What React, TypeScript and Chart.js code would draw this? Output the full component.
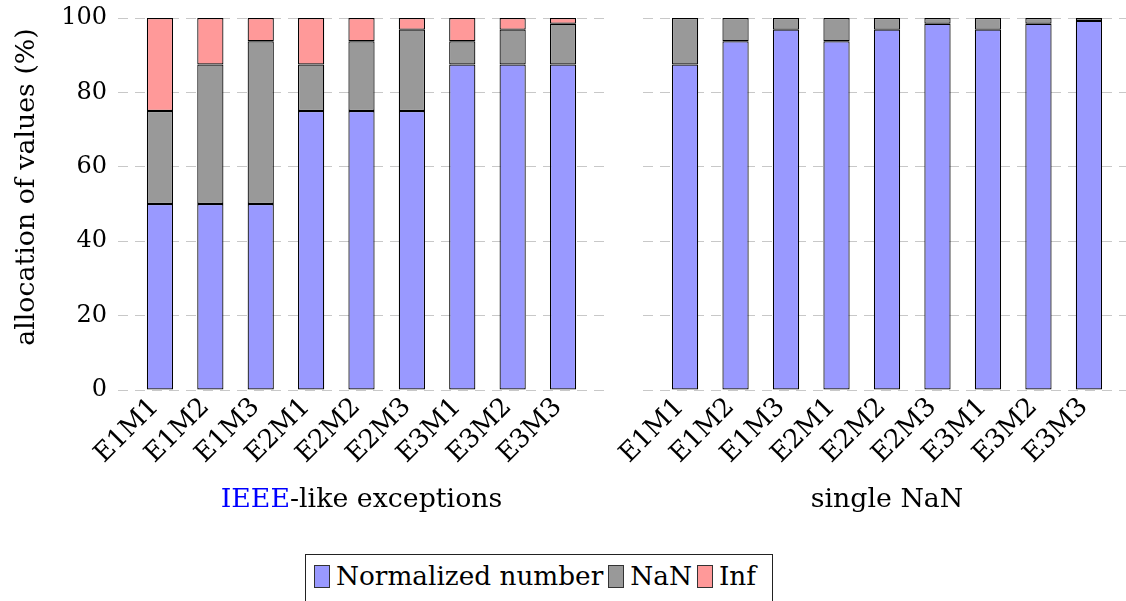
import React, { useEffect, useRef } from "react";
import { Chart, registerables } from "chart.js";

Chart.register(...registerables);

// ---------- data ----------
const categories = ["E1M1", "E1M2", "E1M3", "E2M1", "E2M2", "E2M3", "E3M1", "E3M2", "E3M3"];

const ieeeNormalized = [50, 50, 50, 75, 75, 75, 87.5, 87.5, 87.5];
const ieeeNaN = [25, 37.5, 43.75, 12.5, 18.75, 21.875, 6.25, 9.375, 10.9375];
const ieeeInf = [25, 12.5, 6.25, 12.5, 6.25, 3.125, 6.25, 3.125, 1.5625];

const nanNormalized = [87.5, 93.75, 96.875, 93.75, 96.875, 98.4375, 96.875, 98.4375, 99.21875];
const nanNaN = [12.5, 6.25, 3.125, 6.25, 3.125, 1.5625, 3.125, 1.5625, 0.78125];

const yMin = 0;
const yMax = 100;
const yStep = 20;

const seriesLabels = ["Normalized number", "NaN", "Inf"];
const leftTitleParts = ["IEEE", "-like exceptions"];
const rightTitle = "single NaN";
const yTitle = "allocation of values (%)";

// ---------- styles ----------
const FONT = '"DejaVu Serif", "Liberation Serif", "Noto Serif", serif';
const Y_TICK_SIZE = 24;
const X_TICK_SIZE = 26;
const TITLE_SIZE = 26.8;
const LEGEND_SIZE = 26.3;
const BLUE = "#9999ff";
const GRAY = "#999999";
const RED = "#ff9999";
const seriesColors = [BLUE, GRAY, RED];

type TextPart = { text: string; color: string };
type TextItem = { parts: TextPart[]; x: number | "center"; y: number; rotate?: number };

const textOverlay = {
  id: "textOverlay",
  afterDraw(chart: any, _args: any, opts: any) {
    const items: TextItem[] = opts.items || [];
    const { ctx, chartArea } = chart;
    ctx.save();
    ctx.font = `${opts.size}px ${FONT}`;
    ctx.textAlign = "left";
    ctx.textBaseline = "alphabetic";
    for (const it of items) {
      const parts = it.parts;
      const widths: number[] = [];
      for (let i = 0; i < parts.length; i++) widths.push(ctx.measureText(parts[i].text).width);
      const total = widths.reduce((a, b) => a + b, 0);
      const cx = it.x === "center" ? (chartArea.left + chartArea.right) / 2 : (it.x as number);
      ctx.save();
      ctx.translate(cx, it.y);
      if (it.rotate) ctx.rotate(it.rotate);
      let x = -total / 2;
      for (let i = 0; i < parts.length; i++) {
        ctx.fillStyle = parts[i].color;
        ctx.fillText(parts[i].text, x, 0);
        x += widths[i];
      }
      ctx.restore();
    }
    ctx.restore();
  },
};

type Series = { label: string; data: number[]; color: string };

function buildConfig(series: Series[], o: { yWidth: number; showYTicks: boolean; padRight: number; items: TextItem[] }) {
  return {
    type: "bar" as const,
    data: {
      datasets: series.map((s) => ({
        label: s.label,
        data: s.data.map((v, i) => ({ x: i, y: v })),
        backgroundColor: s.color,
        borderColor: "#000000",
        borderWidth: 1.2,
        borderSkipped: false,
        barPercentage: 0.52,
        categoryPercentage: 1,
      })),
    },
    options: {
      responsive: false,
      animation: false,
      devicePixelRatio: 1,
      layout: { padding: { top: 18, right: o.padRight, left: 0, bottom: 0 } },
      plugins: {
        legend: { display: false },
        tooltip: { enabled: false },
        textOverlay: { items: o.items, size: TITLE_SIZE },
      },
      scales: {
        x: {
          type: "linear",
          offset: false,
          min: -0.833,
          max: categories.length - 1 + 0.833,
          stacked: true,
          grid: { display: false, drawTicks: false, offset: false },
          border: { display: false },
          afterBuildTicks: (s: any) => {
            s.ticks = categories.map((_, i) => ({ value: i }));
          },
          afterFit: (s: any) => {
            s.height = 150;
            s.paddingLeft = 0;
            s.paddingRight = 0;
          },
          ticks: {
            callback: (v: any) => categories[v] ?? "",
            minRotation: 45,
            maxRotation: 45,
            autoSkip: false,
            color: "#000",
            padding: 2,
            labelOffset: -5,
            font: { family: FONT, size: X_TICK_SIZE },
          },
        },
        y: {
          min: yMin,
          max: yMax,
          stacked: true,
          ticks: {
            stepSize: yStep,
            display: o.showYTicks,
            color: "#000",
            padding: 11,
            font: { family: FONT, size: Y_TICK_SIZE },
          },
          grid: { color: "#c8c8c8", drawTicks: false, lineWidth: 1 },
          border: { display: false, dash: [10, 7] },
          afterFit: (s: any) => {
            s.width = o.yWidth;
            s.paddingTop = 0;
            s.paddingBottom = 0;
          },
        },
      },
    },
    plugins: [textOverlay],
  };
}

function Panel(props: { series: Series[]; left: number; width: number; height: number; yWidth: number; showYTicks: boolean; padRight: number; items: TextItem[] }) {
  const ref = useRef<HTMLCanvasElement>(null);
  useEffect(() => {
    const chart = new Chart(
      ref.current as HTMLCanvasElement,
      buildConfig(props.series, {
        yWidth: props.yWidth,
        showYTicks: props.showYTicks,
        padRight: props.padRight,
        items: props.items,
      }) as any
    );
    return () => chart.destroy();
  }, []);
  return (
    <canvas
      ref={ref}
      width={props.width}
      height={props.height}
      style={{ position: "absolute", left: props.left, top: 0, width: props.width, height: props.height }}
    />
  );
}

export default function App() {
  const leftSeries: Series[] = [
    { label: seriesLabels[0], data: ieeeNormalized, color: BLUE },
    { label: seriesLabels[1], data: ieeeNaN, color: GRAY },
    { label: seriesLabels[2], data: ieeeInf, color: RED },
  ];
  const rightSeries: Series[] = [
    { label: seriesLabels[0], data: nanNormalized, color: BLUE },
    { label: seriesLabels[1], data: nanNaN, color: GRAY },
  ];
  const leftItems: TextItem[] = [
    {
      parts: [
        { text: leftTitleParts[0], color: "#0000ff" },
        { text: leftTitleParts[1], color: "#000000" },
      ],
      x: "center",
      y: 507,
    },
    { parts: [{ text: yTitle, color: "#000000" }], x: 34, y: 187, rotate: -Math.PI / 2 },
  ];
  const rightItems: TextItem[] = [{ parts: [{ text: rightTitle, color: "#000000" }], x: "center", y: 507 }];

  return (
    <div
      style={{
        position: "fixed",
        left: 0,
        top: 0,
        width: 1126,
        height: 601,
        overflow: "hidden",
        background: "#ffffff",
      }}
    >
      <Panel series={leftSeries} left={0} width={615} height={540} yWidth={118} showYTicks={true} padRight={10} items={leftItems} />
      <Panel series={rightSeries} left={600} width={546} height={540} yWidth={43} showYTicks={false} padRight={15} items={rightItems} />
      <div
        style={{
          position: "absolute",
          left: 305,
          top: 554,
          width: 468,
          height: 70,
          boxSizing: "border-box",
          border: "1px solid #222",
          paddingLeft: 8,
          paddingTop: 5,
          font: `${LEGEND_SIZE}px ${FONT}`,
          lineHeight: "32px",
          color: "#000",
        }}
      >
        <div style={{ display: "flex", alignItems: "center", height: 32 }}>
          {seriesLabels.map((lab, i) => (
            <div key={lab} style={{ display: "flex", alignItems: "center", marginRight: 5 }}>
              <span
                style={{
                  display: "inline-block",
                  width: 16,
                  height: 23,
                  boxSizing: "border-box",
                  background: seriesColors[i],
                  border: "1px solid #333",
                  marginRight: 6,
                }}
              />
              <span style={{ whiteSpace: "nowrap" }}>{lab}</span>
            </div>
          ))}
        </div>
      </div>
    </div>
  );
}
